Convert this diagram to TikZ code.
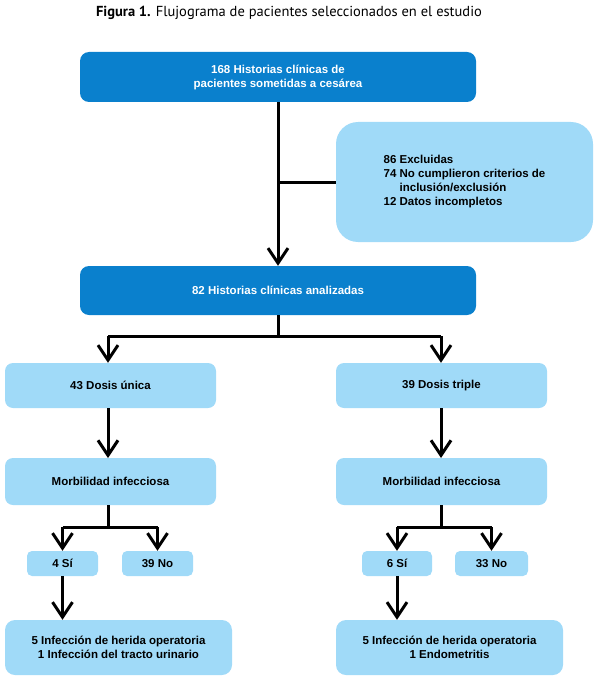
\documentclass[tikz,border=0pt]{standalone}
\usepackage{fontspec}
\setmainfont{Liberation Sans}
\newfontfamily\titlefont{PT Sans}
\usetikzlibrary{arrows.meta}

\definecolor{darkbox}{HTML}{0A80CD}
\definecolor{lightbox}{HTML}{A0DAF8}

\begin{document}
\begin{tikzpicture}[x=1pt,y=-1pt,
  mainbox/.style={fill=darkbox,rounded corners=9pt,text=white,font=\bfseries\fontsize{11.5}{14}\selectfont,align=center,inner sep=0pt},
  subbox/.style={fill=lightbox,rounded corners=8pt,text=black,font=\bfseries\fontsize{11.5}{14}\selectfont,align=center,inner sep=0pt},
  flow/.style={line width=3pt},
  flowarrow/.style={line width=3pt,-{Straight Barb[length=15pt,width=20pt]}}]
\useasboundingbox (0,0) rectangle (598,682);
%\draw[step=50,gray,very thin] (0,0) grid (598,682); %background grid

\node (title) at (289,13) {\titlefont\fontsize{14.5}{16}\selectfont\textbf{Figura 1.} Flujograma de pacientes seleccionados en el estudio};

% top part
\node[mainbox,minimum width=396pt,minimum height=50pt] (hist) at (278,77) {168 Historias clínicas de\\pacientes sometidas a cesárea};
\node[subbox,rounded corners=22pt,minimum width=257pt,minimum height=120pt,align=left] (excl) at (464.5,182) {86 Excluidas\\74 No cumplieron criterios de\\\phantom{74 }inclusión/exclusión\\12 Datos incompletos};
\node[mainbox,minimum width=396pt,minimum height=49pt] (anal) at (278,290.5) {82 Historias clínicas analizadas};

\coordinate (cut) at (278,182);
\draw[flowarrow] (hist.south) -- (anal.north);
\draw[flow] (cut) -- (excl.west);

% two groups
\node[subbox,minimum width=211pt,minimum height=45pt] (unica) at (110.5,385.5) {43 Dosis única};
\node[subbox,minimum width=211pt,minimum height=45pt] (triple) at (441.5,385.5) {39 Dosis triple};

\coordinate (split) at (278,336);
\coordinate (splitL) at (108,336);
\coordinate (splitR) at (441,336);
\draw[flow] (anal.south) -- (split);
\draw[flow] (splitL) -- (splitR);
\draw[flowarrow] (splitL) -- (splitL |- unica.north);
\draw[flowarrow] (splitR) -- (splitR |- triple.north);

\node[subbox,minimum width=211pt,minimum height=47pt] (morbL) at (110.5,481.5) {Morbilidad infecciosa};
\node[subbox,minimum width=211pt,minimum height=47pt] (morbR) at (441.5,481.5) {Morbilidad infecciosa};

\draw[flowarrow] (108,408) -- (108,458);
\draw[flowarrow] (441,408) -- (441,458);

% yes / no
\node[subbox,rounded corners=5pt,minimum width=71pt,minimum height=25pt] (siL) at (62.5,563.5) {4 Sí};
\node[subbox,rounded corners=5pt,minimum width=71pt,minimum height=25pt] (noL) at (157.5,563.5) {39 No};
\node[subbox,rounded corners=5pt,minimum width=70pt,minimum height=25pt] (siR) at (397,563.5) {6 Sí};
\node[subbox,rounded corners=5pt,minimum width=73pt,minimum height=25pt] (noR) at (491.5,563.5) {33 No};

\coordinate (forkL) at (108,527);
\coordinate (forkR) at (441,527);
\draw[flow] (108,505) -- (forkL);
\draw[flow] (441,505) -- (forkR);
\draw[flow] (siL.north |- forkL) -- (noL.north |- forkL);
\draw[flow] (siR.north |- forkR) -- (noR.north |- forkR);
\draw[flowarrow] (siL.north |- forkL) -- (siL.north);
\draw[flowarrow] (noL.north |- forkL) -- (noL.north);
\draw[flowarrow] (siR.north |- forkR) -- (siR.north);
\draw[flowarrow] (noR.north |- forkR) -- (noR.north);

% infections
\node[subbox,rounded corners=10pt,minimum width=227pt,minimum height=55pt] (infL) at (118.5,647.5) {5 Infección de herida operatoria\\1 Infección del tracto urinario};
\node[subbox,rounded corners=10pt,minimum width=227pt,minimum height=55pt] (infR) at (449.5,647.5) {5 Infección de herida operatoria\\1 Endometritis};

\draw[flowarrow] (siL.south) -- (siL.south |- infL.north);
\draw[flowarrow] (siR.south) -- (siR.south |- infR.north);
\end{tikzpicture}
\end{document}
